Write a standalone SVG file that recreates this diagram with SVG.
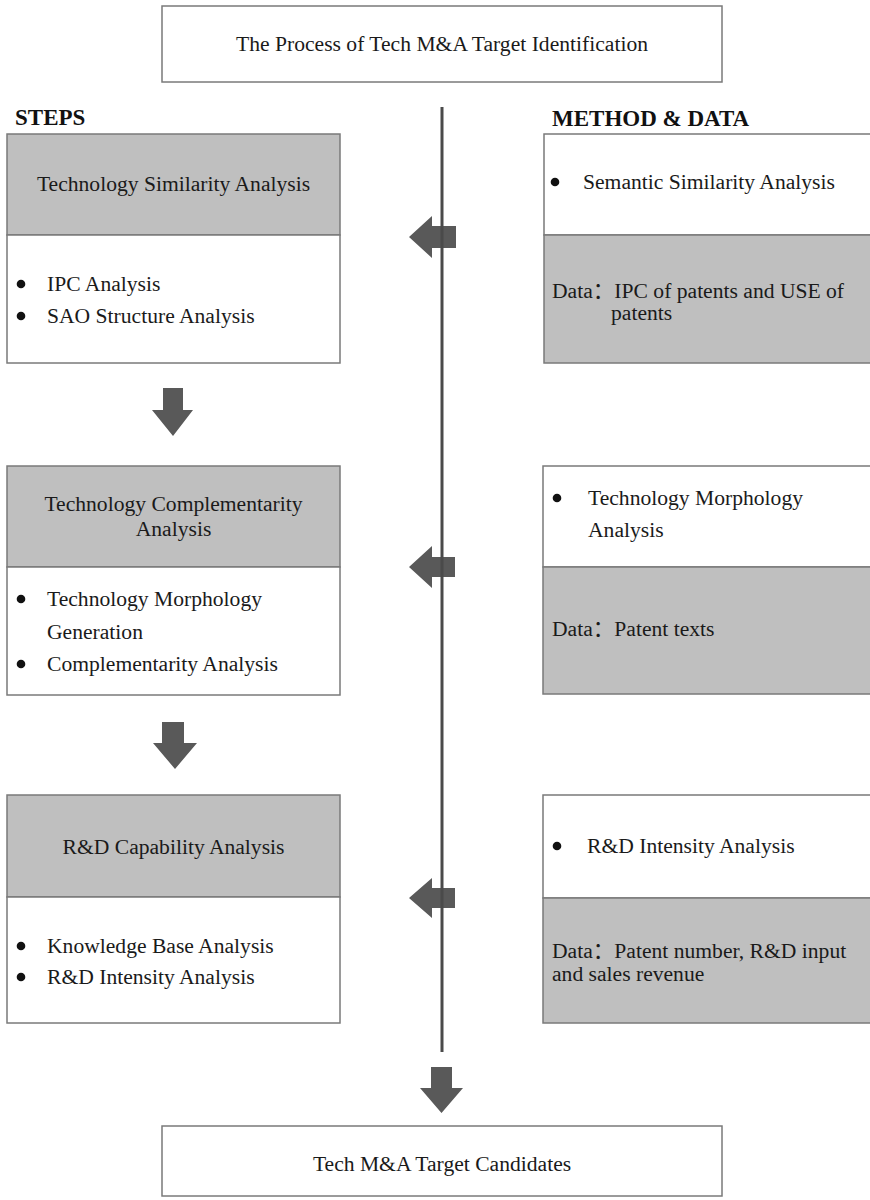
<svg xmlns="http://www.w3.org/2000/svg" width="870" height="1200" viewBox="0 0 870 1200">
<style>
.box{stroke:#7a7a7a;stroke-width:1.5}
.w{fill:#ffffff}
.g{fill:#bfbfbf}
.t{font-family:"Liberation Serif","Times New Roman",serif;font-size:21.6px;fill:#1a1a1a}
.c{text-anchor:middle}
.h{font-family:"Liberation Serif","Times New Roman",serif;font-size:23px;font-weight:bold;fill:#111}
.d{font-family:"Liberation Serif","Noto Sans CJK SC",serif;font-size:21.6px;fill:#1a1a1a}
.dot{fill:#111}
.arr{fill:#595959}
</style>
<rect width="870" height="1200" fill="#ffffff"/>

<g id="title">
<rect class="box w" x="162" y="6" width="560" height="76"/>
<text class="t c" x="442" y="51">The Process of Tech M&amp;A Target Identification</text>
</g>

<g id="headers">
<text class="h" x="15" y="125">STEPS</text>
<text class="h" x="552" y="126">METHOD &amp; DATA</text>
</g>

<g id="step1">
<rect class="box g" x="7" y="134" width="333" height="101"/>
<rect class="box w" x="7" y="235" width="333" height="128"/>
<text class="t c" x="173.5" y="191">Technology Similarity Analysis</text>
<circle class="dot" cx="21" cy="284" r="4.3"/>
<text class="t" x="47" y="291">IPC Analysis</text>
<circle class="dot" cx="21" cy="316" r="4.3"/>
<text class="t" x="47" y="323">SAO Structure Analysis</text>
</g>

<g id="method1">
<rect class="box w" x="544" y="134" width="330" height="101"/>
<rect class="box g" x="544" y="235" width="330" height="128"/>
<circle class="dot" cx="555" cy="182" r="4.3"/>
<text class="t" x="583" y="189">Semantic Similarity Analysis</text>
<text class="d" x="552" y="298">Data：IPC of patents and USE of</text>
<text class="t" x="611" y="320">patents</text>
</g>

<g id="step2">
<rect class="box g" x="7" y="466" width="333" height="101"/>
<rect class="box w" x="7" y="567" width="333" height="128"/>
<text class="t c" x="173.5" y="511">Technology Complementarity</text>
<text class="t c" x="173.5" y="536">Analysis</text>
<circle class="dot" cx="21" cy="599" r="4.3"/>
<text class="t" x="47" y="606">Technology Morphology</text>
<text class="t" x="47" y="639">Generation</text>
<circle class="dot" cx="21" cy="664" r="4.3"/>
<text class="t" x="47" y="671">Complementarity Analysis</text>
</g>

<g id="method2">
<rect class="box w" x="543" y="466" width="330" height="101"/>
<rect class="box g" x="543" y="567" width="330" height="127"/>
<circle class="dot" cx="557" cy="498" r="4.3"/>
<text class="t" x="588" y="505">Technology Morphology</text>
<text class="t" x="588" y="537">Analysis</text>
<text class="d" x="552" y="636">Data：Patent texts</text>
</g>

<g id="step3">
<rect class="box g" x="7" y="795" width="333" height="102"/>
<rect class="box w" x="7" y="897" width="333" height="126"/>
<text class="t c" x="173.5" y="854">R&amp;D Capability Analysis</text>
<circle class="dot" cx="21" cy="946" r="4.3"/>
<text class="t" x="47" y="953">Knowledge Base Analysis</text>
<circle class="dot" cx="21" cy="977" r="4.3"/>
<text class="t" x="47" y="984">R&amp;D Intensity Analysis</text>
</g>

<g id="method3">
<rect class="box w" x="543" y="795" width="330" height="103"/>
<rect class="box g" x="543" y="898" width="330" height="125"/>
<circle class="dot" cx="557" cy="846" r="4.3"/>
<text class="t" x="587" y="853">R&amp;D Intensity Analysis</text>
<text class="d" x="552" y="958">Data：Patent number, R&amp;D input</text>
<text class="t" x="552" y="981">and sales revenue</text>
</g>

<g id="result">
<rect class="box w" x="162" y="1126" width="560" height="70"/>
<text class="t c" x="442" y="1171">Tech M&amp;A Target Candidates</text>
</g>

<g id="connectors">
<polygon class="arr" points="456,226 432,226 432,216 409,237 432,258 432,248 456,248"/>
<polygon class="arr" points="455,557 432,557 432,546 409,567 432,588 432,577 455,577"/>
<polygon class="arr" points="455,888 432,888 432,878 409,898 432,918 432,908 455,908"/>
<polygon class="arr" points="163,388 183,388 183,410 193,410 173,436 152,410 163,410"/>
<polygon class="arr" points="162,722 184,722 184,743 197,743 175,769 153,743 162,743"/>
<polygon class="arr" points="431,1067 452,1067 452,1088 463,1088 441.5,1113 420,1088 431,1088"/>
<line x1="442" y1="107" x2="442" y2="1052" stroke="#4a4a4a" stroke-width="3"/>
</g>
</svg>
